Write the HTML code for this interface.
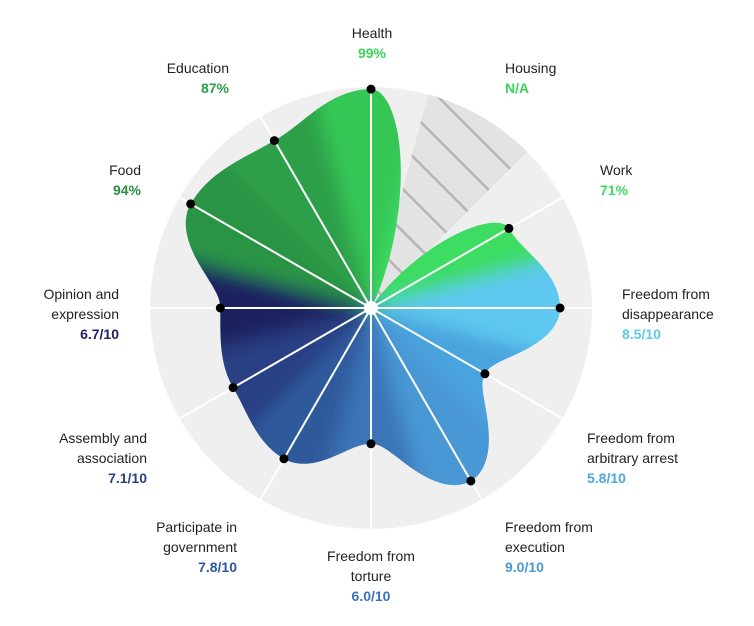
<!DOCTYPE html>
<html><head><meta charset="utf-8">
<style>
html,body{margin:0;padding:0;background:#fff;}
svg{display:block;font-family:"Liberation Sans",sans-serif;}
</style></head>
<body>
<svg id="chart" width="754" height="626" viewBox="0 0 754 626" xmlns="http://www.w3.org/2000/svg">
<defs>
<pattern id="hatch" patternUnits="userSpaceOnUse" width="30" height="30" patternTransform="rotate(-45)">
<rect width="30" height="30" fill="#e3e3e3"/><rect x="0" y="0" width="2.5" height="30" fill="#b5b5b5"/>
</pattern>
<clipPath id="blobClip"><path id="blobPath" d=""/></clipPath>
<filter id="blur" x="-20%" y="-20%" width="140%" height="140%"><feGaussianBlur stdDeviation="9"/></filter>
</defs>
<g id="bg"></g>
<g clip-path="url(#blobClip)"><g id="wedges" filter="url(#blur)"></g></g>
<g id="spokes"></g>
<g id="points"></g>
<g id="labels"></g>
</svg>
<script>
const categories = ["Health","Housing","Work","Freedom from disappearance","Freedom from arbitrary arrest","Freedom from execution","Freedom from torture","Participate in government","Assembly and association","Opinion and expression","Food","Education"];
const values = [0.99, null, 0.71, 0.85, 0.58, 0.90, 0.60, 0.78, 0.71, 0.67, 0.94, 0.87];
const valueLabels = ["99%","N/A","71%","8.5/10","5.8/10","9.0/10","6.0/10","7.8/10","7.1/10","6.7/10","94%","87%"];
const colors = ["#36c757","#3ddc64","#3ddc64","#5fc8f0","#4aa3dc","#4a97d4","#3a74b8","#2f5a9c","#2b3f85","#1f2260","#2a9444","#2e9f4a"];
const labelColors = ["#3cd35c","#3cd35c","#3ddc64","#5fc8f0","#4aa8e0","#4a97d4","#3a72b8","#2d5a9a","#2b3f85","#1f2260","#2a8f40","#2e9e48"];
const labelLines = [["Health"],["Housing"],["Work"],["Freedom from","disappearance"],["Freedom from","arbitrary arrest"],["Freedom from","execution"],["Freedom from","torture"],["Participate in","government"],["Assembly and","association"],["Opinion and","expression"],["Food"],["Education"]];
const labelPos = [[372,33,"middle"],[505,68,"start"],[600,170,"start"],[622,294,"start"],[587,438,"start"],[505,527,"start"],[371,556,"middle"],[237,527,"end"],[147,438,"end"],[119,294,"end"],[141,170,"end"],[229,68,"end"]];

const cx=371, cy=308, R=221, NS="http://www.w3.org/2000/svg";
function rScale(v){return v==null?0:8+v*213;}
function pt(a,r){const t=a*Math.PI/180;return [cx+r*Math.sin(t), cy-r*Math.cos(t)];}
function mk(tag,attrs,parent){const e=document.createElementNS(NS,tag);for(const k in attrs)e.setAttribute(k,attrs[k]);parent.appendChild(e);return e;}
const n=categories.length, step=360/n;
const bg=document.getElementById('bg');
const c=mk('circle',{cx:cx,cy:cy,r:R,fill:'#efefef'},bg);


categories.forEach((cat,i)=>{
 if(values[i]==null){
  const a0=i*step-step/2,a1=i*step+step/2;
  const p0=pt(a0,R),p1=pt(a1,R);
  const w=mk('path',{d:`M${cx},${cy}L${p0[0]},${p0[1]}A${R},${R} 0 0 1 ${p1[0]},${p1[1]}Z`,fill:'url(#hatch)'},bg);
  
  
 }
});
let d='';
for(let k=0;k<=720;k++){
 const a=k*0.5;
 const i0=Math.floor(a/step)%n, i1=(i0+1)%n;
 const f=(a-Math.floor(a/step)*step)/step;
 const s=(1-Math.cos(f*Math.PI))/2;
 const r=rScale(values[i0])*(1-s)+rScale(values[i1])*s;
 const p=pt(a,r);
 d+=(k?'L':'M')+p[0].toFixed(2)+','+p[1].toFixed(2);
}
document.getElementById('blobPath').setAttribute('d',d+'Z');
const wg=document.getElementById('wedges');
categories.forEach((cat,i)=>{
 const a0=i*step-step/2,a1=i*step+step/2;
 const RR=R+30;
 const p0=pt(a0,RR),p1=pt(a1,RR);
 const w=mk('path',{d:`M${cx},${cy}L${p0[0]},${p0[1]}A${RR},${RR} 0 0 1 ${p1[0]},${p1[1]}Z`,fill:colors[i],stroke:colors[i],'stroke-width':1},wg);
 
 
});
const sg=document.getElementById('spokes');
for(let i=0;i<n;i++){
 if(values[i]==null)continue;
 const p=pt(i*step,R);
 const l=mk('line',{x1:cx,y1:cy,x2:p[0],y2:p[1],stroke:'#fff','stroke-width':2},sg);
 
 
}
const pg=document.getElementById('points');
categories.forEach((cat,i)=>{
 if(values[i]==null)return;
 const p=pt(i*step,rScale(values[i]));
 const dot=mk('circle',{cx:p[0],cy:p[1],r:4.5,fill:'#000'},pg);
 
 
});
const cc=mk('circle',{cx:cx,cy:cy,r:7,fill:'#fff'},pg);


const lg=document.getElementById('labels');
categories.forEach((cat,i)=>{
 const [x,y,anc]=labelPos[i];
 labelLines[i].forEach((ln,j)=>{
  const t=mk('text',{x:x,y:y+j*20+5,'text-anchor':anc,'font-size':14,fill:'#222'},lg);
  t.textContent=ln;
  
  
 });
 const t=mk('text',{x:x,y:y+labelLines[i].length*20+5,'text-anchor':anc,'font-size':14,'font-weight':'bold',fill:labelColors[i]},lg);
 t.textContent=valueLabels[i];
 
 
});
</script>
</body></html>
